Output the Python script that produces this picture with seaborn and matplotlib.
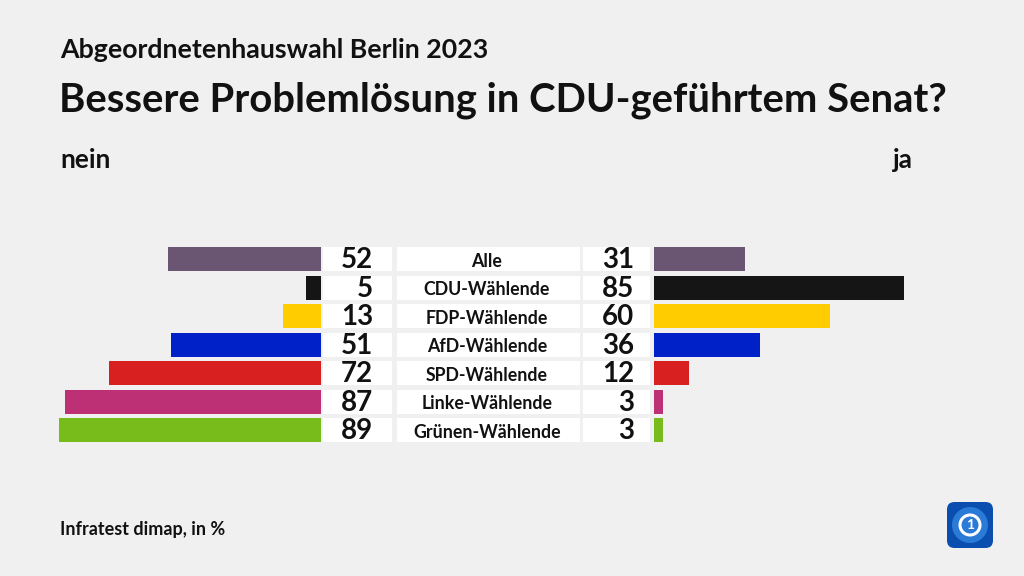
import matplotlib
matplotlib.use("Agg")
import matplotlib.pyplot as plt
import seaborn as sns
import pandas as pd
from matplotlib.patches import FancyBboxPatch, Circle

categories = ["Alle", "CDU-Wählende", "FDP-Wählende", "AfD-Wählende",
              "SPD-Wählende", "Linke-Wählende", "Grünen-Wählende"]
nein = [52, 5, 13, 51, 72, 87, 89]
ja = [31, 85, 60, 36, 12, 3, 3]
colors = ["#6a5573", "#151515", "#ffcc00", "#0021c8", "#d92020", "#be3075", "#78bc1b"]

title = "Bessere Problemlösung in CDU-geführtem Senat?"
subtitle = "Abgeordnetenhauswahl Berlin 2023"
left_label = "nein"
right_label = "ja"
source = "Infratest dimap, in %"

sns.set_theme(style="white")
FONT = ["Lato", "DejaVu Sans"]
plt.rcParams["font.family"] = FONT

W, H = 1024, 576
BG = "#f0f0f0"
fig = plt.figure(figsize=(W / 100, H / 100), dpi=100, facecolor=BG)

df = pd.DataFrame({"cat": categories, "nein": nein, "ja": ja})
pal = dict(zip(categories, colors))

row0, step = 259, 28.5
top_px = row0 - step / 2
bot_px = top_px + step * len(categories)
scale = 2.94  # px per unit


def ax_rect(x0, x1):
    return [x0 / W, (H - bot_px) / H, (x1 - x0) / W, (bot_px - top_px) / H]


# left axis (nein)
axL = fig.add_axes(ax_rect(321 - 100 * scale, 321))
sns.barplot(data=df, y="cat", x="nein", hue="cat", palette=pal, order=categories,
            orient="h", width=24 / step, ax=axL, legend=False, saturation=1, linewidth=0)
axL.set_xlim(100, 0)

# right axis (ja)
axR = fig.add_axes(ax_rect(654, 654 + 100 * scale))
sns.barplot(data=df, y="cat", x="ja", hue="cat", palette=pal, order=categories,
            orient="h", width=24 / step, ax=axR, legend=False, saturation=1, linewidth=0)
axR.set_xlim(0, 100)

# middle axis for labels (x in pixels)
axM = fig.add_axes(ax_rect(321, 654))
axM.set_xlim(321, 654)

for ax in (axL, axR, axM):
    ax.set_ylim(len(categories) - 0.5, -0.5)
    ax.set_facecolor("none")
    ax.axis("off")

bh = 24 / step
for i, cat in enumerate(categories):
    for x0, x1 in [(323, 392), (397, 580), (583, 650)]:
        axM.barh(i, x1 - x0, left=x0, height=bh, color="white", linewidth=0)
    axM.text(373, i + 0.05, str(nein[i]), ha="right", va="center", fontsize=20,
             fontweight="bold", color="#111111")
    axM.text(634, i + 0.05, str(ja[i]), ha="right", va="center", fontsize=20,
             fontweight="bold", color="#111111")
    axM.text(487, i + 0.08, cat, ha="center", va="center", fontsize=12.8,
             fontweight="bold", color="#111111")

# texts
def ftext(x, y, s, **kw):
    fig.text(x / W, 1 - y / H, s, **kw)

ftext(60, 50, subtitle, fontsize=19.3, fontweight="bold", va="center", color="#111111")
ftext(59, 100, title, fontsize=28.8, fontweight="bold", va="center", color="#111111")
ftext(60, 160, left_label, fontsize=19, fontweight="bold", va="center", color="#111111")
ftext(913, 160, right_label, fontsize=19, fontweight="bold", va="center", ha="right", color="#111111")
ftext(60, 529, source, fontsize=13, fontweight="bold", va="center", color="#111111")

# logo
axLogo = fig.add_axes([945 / W, (H - 550) / H, 50 / W, 50 / H])
axLogo.set_xlim(0, 1)
axLogo.set_ylim(0, 1)
axLogo.axis("off")
axLogo.add_patch(FancyBboxPatch((0.04, 0.04), 0.92, 0.92, boxstyle="round,pad=0,rounding_size=0.15",
                                fc="#0a4fb0", ec="none"))
axLogo.add_patch(Circle((0.5, 0.5), 0.36, fc="#2a7ad8", ec="none"))
axLogo.add_patch(Circle((0.5, 0.5), 0.2, fc="none", ec="white", lw=2.2))
axLogo.text(0.5, 0.5, "1", ha="center", va="center", fontsize=10, fontweight="bold", color="white")

fig.savefig("out.png", dpi=100, facecolor=BG)
